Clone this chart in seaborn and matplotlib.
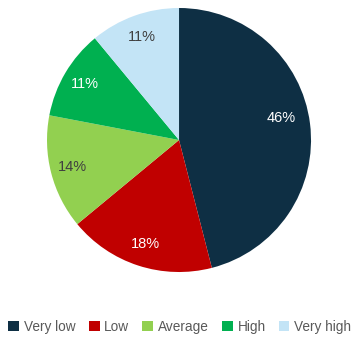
import matplotlib
matplotlib.use("Agg")
import matplotlib.pyplot as plt
import seaborn as sns

categories = ["Very low", "Low", "Average", "High", "Very high"]
shares = [46, 18, 14, 11, 11]
colors = ["#0E2F44", "#C00000", "#92D050", "#00B050", "#C3E4F6"]
label_colors = ["white", "white", "#404040", "white", "#404040"]

sns.set_theme(style="white")
plt.rcParams["font.family"] = ["Liberation Sans", "DejaVu Sans"]
palette = sns.color_palette(colors)

fig = plt.figure(figsize=(3.54, 3.39), dpi=100)
ax = fig.add_axes([0.1328, 0.1976, 0.7458, 0.7788])

wedges, texts, autotexts = ax.pie(
    shares,
    colors=palette,
    startangle=90,
    counterclock=False,
    autopct=lambda p: f"{p:.0f}%",
    pctdistance=0.83,
    wedgeprops=dict(linewidth=0),
    textprops=dict(fontsize=10.5),
)
for t, c in zip(autotexts, label_colors):
    t.set_color(c)
# the large slice's label sits a little further in and higher
autotexts[0].set_position((0.773, 0.167))
ax.set_aspect("equal")
ax.set_xlim(-1, 1)
ax.set_ylim(-1, 1)

fig.legend(
    wedges, categories,
    loc="center", bbox_to_anchor=(0.508, 0.036),
    ncol=5, frameon=False, fontsize=9.8,
    handlelength=0.8, handleheight=0.8, handletextpad=0.35,
    columnspacing=0.95, labelcolor="#595959",
)

fig.savefig("out.png", dpi=100)
